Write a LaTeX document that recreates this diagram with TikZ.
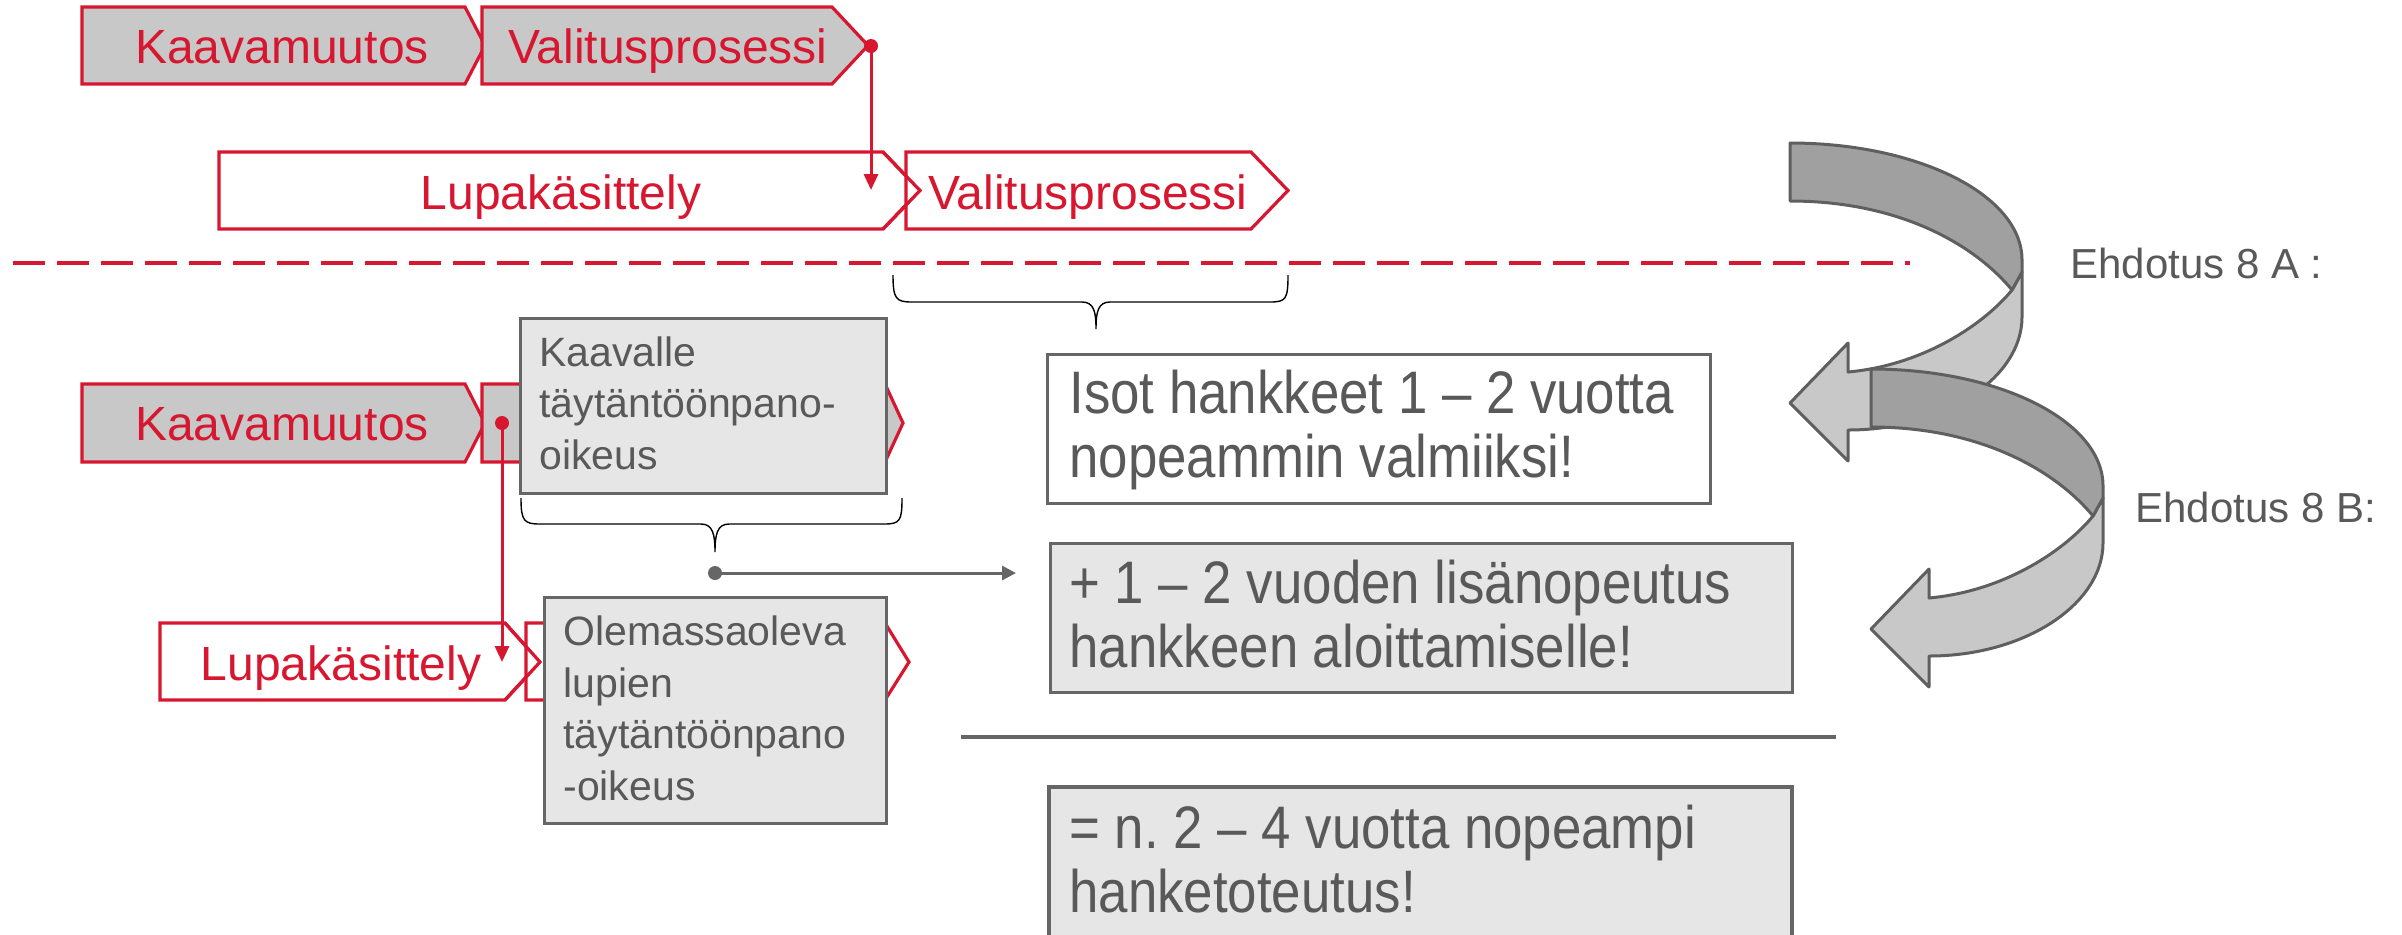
\documentclass[tikz,border=0pt]{standalone}
\usepackage{fontspec}
\setmainfont{Liberation Sans}
\newfontfamily\bigfont[FakeStretch=0.88]{Liberation Sans}
\usetikzlibrary{arrows.meta}
\frenchspacing
\definecolor{myred}{RGB}{215,22,48}
\definecolor{chevgray}{RGB}{200,200,200}
\definecolor{boxfill}{RGB}{230,230,230}
\definecolor{boxline}{RGB}{102,102,102}
\definecolor{txtgray}{RGB}{89,89,89}
\definecolor{ribdark}{RGB}{160,160,160}
\definecolor{riblight}{RGB}{200,200,200}
\definecolor{ribline}{RGB}{95,95,95}
\begin{document}
\begin{tikzpicture}[x=0.5pt,y=-0.5pt,
  chevron/.style={draw=myred,line width=1.6pt,line join=miter},
  redtxt/.style={text=myred,font=\fontsize{24}{28}\selectfont,inner sep=0pt,anchor=base},
  graybox/.style={draw=boxline,fill=boxfill,line width=1.7pt},
  whitebox/.style={draw=boxline,fill=white,line width=1.5pt},
  smalltxt/.style={text=txtgray,font=\fontsize{20.5}{25.75}\selectfont,align=left,inner sep=0pt,anchor=base west},
  bigtxt/.style={text=txtgray,font=\bigfont\fontsize{30}{31.75}\selectfont,align=left,inner sep=0pt,anchor=base west},
  ehdtxt/.style={text=txtgray,font=\fontsize{21}{25}\selectfont,inner sep=0pt,anchor=base west},
  redconn/.style={draw=myred,line width=1.5pt,-{Triangle[length=8pt,width=7pt]}},
  grayconn/.style={draw=boxline,line width=1.5pt,-{Triangle[length=7pt,width=7pt]}},
  bracestyle/.style={draw=black,line width=0.7pt},
  ribbon/.style={draw=ribline,line width=1.5pt,line join=round},
  pics/curlarrow/.style={code={
    \path[ribbon,fill=riblight] (222,147) -- (232,129) -- (232,174)
      .. controls (232,235) and (154,287) .. (58,287) -- (58,318) -- (0,260) -- (58,200) -- (58,229)
      .. controls (135,222) and (195,180) .. (222,147) -- cycle;
    \path[ribbon,fill=ribdark] (0,0) .. controls (128,0) and (232,52) .. (232,117) -- (232,129) -- (222,147)
      .. controls (185,102) and (110,58) .. (0,58) -- cycle;
  }}
]
\useasboundingbox (0,0) rectangle (2402,934);

% ---------- upper scenario ----------
\draw[chevron,fill=chevgray] (82,7) -- (465,7) -- (485,45.5) -- (465,84) -- (82,84) -- cycle;
\draw[chevron,fill=chevgray] (482,7) -- (832,7) -- (868,45.5) -- (832,84) -- (482,84) -- cycle;
\node[redtxt] (kaava1) at (282,63) {Kaavamuutos};
\node[redtxt] (valit1) at (668,63) {Valitusprosessi};

\draw[chevron,fill=white] (219,152) -- (883,152) -- (920,190.5) -- (883,229) -- (219,229) -- cycle;
\draw[chevron,fill=white] (906,152) -- (1251,152) -- (1288,190.5) -- (1251,229) -- (906,229) -- cycle;
\draw[chevron] (883,152) -- (920,190.5) -- (883,229);
\node[redtxt] (lupa1) at (561,209) {Lupakäsittely};
\node[redtxt] (valit2) at (1088,209) {Valitusprosessi};

\coordinate (dot1) at (871,46);
\coordinate (end1) at (871,190);
\fill[myred] (dot1) circle[radius=3.5pt];
\draw[redconn] (dot1) -- (end1);

% dashed separator
\draw[myred,line width=2pt,dash pattern=on 16.2pt off 5.8pt] (12.7,263) -- (1910,263);

% brace 1
\draw[bracestyle] (893,275) .. controls (893,299) and (896,302) .. (912,302) -- (1082,302)
  .. controls (1094,302) and (1096,312) .. (1096,329)
  .. controls (1096,312) and (1098,302) .. (1110,302) -- (1270,302)
  .. controls (1286,302) and (1288,299) .. (1288,275);

% ---------- lower scenario ----------
\draw[chevron,fill=chevgray] (82,384) -- (465,384) -- (485,423) -- (465,462) -- (82,462) -- cycle;
\draw[chevron,fill=chevgray] (482,384) -- (885,384) -- (903,423) -- (885,462) -- (482,462) -- cycle;
\node[redtxt] (kaava2) at (282,440) {Kaavamuutos};
\node[graybox,minimum width=183pt,minimum height=87.5pt,anchor=north west,inner sep=0pt] (kbox) at (519,317) {};
\node[smalltxt] (ktxt) at (539,469) {Kaavalle\\täytäntöönpano-\\oikeus};

\draw[chevron,fill=white] (160,623) -- (505,623) -- (540,662) -- (505,700) -- (160,700) -- cycle;
\draw[chevron,fill=white] (526,623) -- (885,623) -- (909,662) -- (885,700) -- (526,700) -- cycle;
\draw[chevron] (505,623) -- (540,662) -- (505,700);
\node[redtxt] (lupa2) at (341,680) {Lupakäsittely};
\node[graybox,minimum width=171pt,minimum height=113pt,anchor=north west,inner sep=0pt] (obox) at (543,596) {};
\node[smalltxt] (otxt) at (563,800) {Olemassaoleva\\lupien\\täytäntöönpano\\-oikeus};

\coordinate (dot2) at (502,423);
\coordinate (end2) at (502,662);
\fill[myred] (dot2) circle[radius=3.5pt];
\draw[redconn] (dot2) -- (end2);

% brace 2
\draw[bracestyle] (521,498) .. controls (521,521) and (524,524) .. (540,524) -- (701,524)
  .. controls (713,524) and (715,535) .. (715,552)
  .. controls (715,535) and (717,524) .. (729,524) -- (884,524)
  .. controls (900,524) and (902,521) .. (902,498);

\coordinate (dot3) at (715,573);
\coordinate (end3) at (1016,573);
\fill[boxline] (dot3) circle[radius=3.5pt];
\draw[grayconn] (dot3) -- (end3);

% ---------- result boxes ----------
\node[whitebox,minimum width=331.5pt,minimum height=74.5pt,anchor=north west,inner sep=0pt] (isot) at (1046,353) {};
\node[bigtxt] (isottxt) at (1069,477) {Isot hankkeet 1 – 2 vuotta\\nopeammin valmiiksi!};

\node[graybox,minimum width=371pt,minimum height=74.5pt,anchor=north west,inner sep=0pt] (plus) at (1049,542) {};
\node[bigtxt] (plustxt) at (1069,667) {+ 1 – 2 vuoden lisänopeutus\\hankkeen aloittamiselle!};

\draw[boxline,line width=2pt] (961,737) -- (1836,737);

\path[graybox] (1049,960) -- (1049,787) -- (1792,787) -- (1792,960);
\node[bigtxt] (sumtxt) at (1069,912) {= n.\ 2 – 4 vuotta nopeampi\\hanketoteutus!};

% ---------- curved arrows ----------
\pic at (1790,143) {curlarrow};
\pic at (1871,369) {curlarrow};

\node[ehdtxt] (ehdA) at (2070,278) {Ehdotus 8 A :};
\node[ehdtxt] (ehdB) at (2135,522) {Ehdotus 8 B:};
\end{tikzpicture}
\end{document}
